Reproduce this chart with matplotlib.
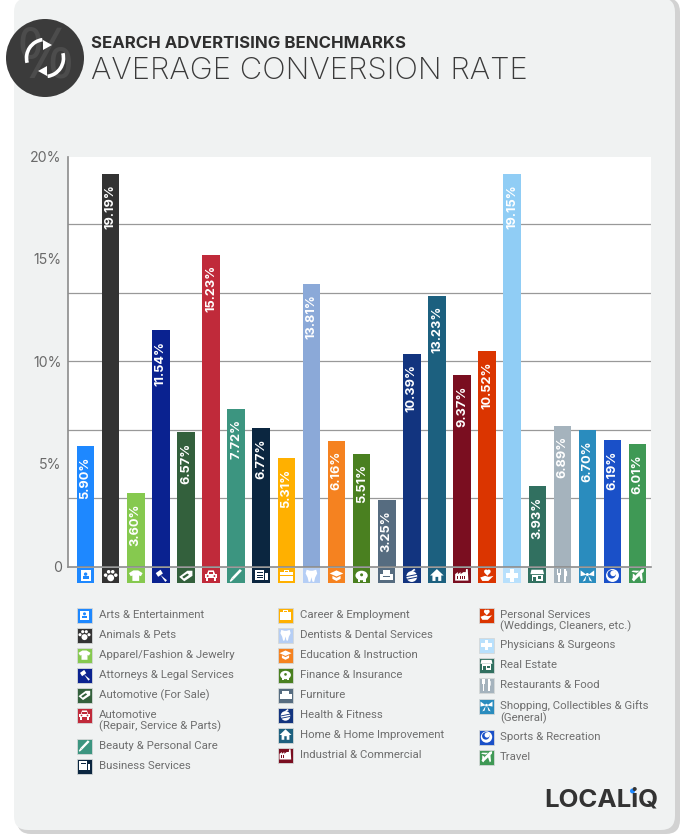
import matplotlib
matplotlib.use("Agg")
import matplotlib.pyplot as plt
from matplotlib.patches import Arc, Circle, Ellipse, FancyBboxPatch, Polygon, Rectangle
from matplotlib.ticker import FixedLocator
from matplotlib.transforms import ScaledTranslation

W, H = 689, 838

categories = [
    "Arts & Entertainment", "Animals & Pets", "Apparel/Fashion & Jewelry",
    "Attorneys & Legal Services", "Automotive (For Sale)",
    "Automotive\n(Repair, Service & Parts)", "Beauty & Personal Care",
    "Business Services", "Career & Employment", "Dentists & Dental Services",
    "Education & Instruction", "Finance & Insurance", "Furniture",
    "Health & Fitness", "Home & Home Improvement", "Industrial & Commercial",
    "Personal Services\n(Weddings, Cleaners, etc.)", "Physicians & Surgeons",
    "Real Estate", "Restaurants & Food",
    "Shopping, Collectibles & Gifts\n(General)", "Sports & Recreation", "Travel",
]
values = [5.90, 19.19, 3.60, 11.54, 6.57, 15.23, 7.72, 6.77, 5.31, 13.81, 6.16, 5.51,
          3.25, 10.39, 13.23, 9.37, 10.52, 19.15, 3.93, 6.89, 6.70, 6.19, 6.01]
colors = ["#1E88FF", "#333333", "#86C94F", "#0A2290", "#33603C", "#C02A3A", "#3C9580",
          "#0B2640", "#FFB000", "#8BA9D8", "#F58220", "#4A8020", "#566C80", "#12347F",
          "#1C607F", "#7A0E20", "#DB3500", "#90CDF5", "#317060", "#A5B3BD", "#2A8CBE",
          "#1A50C8", "#3F9955"]
strip_colors = list(colors)
strip_colors[9] = "#B5CEF5"
strip_colors[17] = "#B8E0FC"
icon_names = ["art", "paw", "shirt", "gavel", "tag", "car", "brush", "news", "case",
              "tooth", "cap", "pig", "sofa", "apple", "house", "factory", "hand", "plus",
              "store", "fork", "bow", "ball", "plane"]
tick_values = [0, 5, 10, 15, 20]
tick_labels = ["0", "5%", "10%", "15%", "20%"]
grid_values = [3.37, 6.68, 10.03, 13.37, 16.72]

# legend rows: text top line y in px for each column
legend_cols = [
    (77, 99, range(0, 8), [615, 635, 655, 675, 695, 715, 746, 766]),
    (278, 300, range(8, 16), [615, 635, 655, 675, 695, 715, 735, 755]),
    (479, 500, range(16, 23), [615, 645, 665, 685, 706, 737, 757]),
]


def fx(px):
    return px / W


def fy(py):
    return 1 - py / H


def draw_icon(ax, name, cx, cy, bg, s=6.0):
    def P(pts, c="white"):
        ax.add_patch(Polygon([(cx + s * x, cy - s * y) for x, y in pts], fc=c, ec="none", zorder=6))

    def C(x, y, r, c="white"):
        ax.add_patch(Circle((cx + s * x, cy - s * y), r * s, fc=c, ec="none", zorder=6))

    def R(x0, y0, x1, y1, c="white"):
        P([(x0, y0), (x1, y0), (x1, y1), (x0, y1)], c)

    if name == "art":
        R(-.75, -.75, .75, .75)
        C(0, .2, .25, bg)
        R(-.45, -.45, .45, -.1, bg)
    elif name == "paw":
        C(0, -.35, .5)
        for x, y in [(-.75, .05), (-.3, .55), (.3, .55), (.75, .05)]:
            C(x, y, .26)
    elif name == "shirt":
        P([(-.35, .75), (.35, .75), (1, .35), (.75, -.1), (.5, 0), (.5, -.8), (-.5, -.8), (-.5, 0), (-.75, -.1), (-1, .35)])
    elif name == "gavel":
        P([(-.75, .35), (-.05, .85), (.3, .3), (-.4, -.2)])
        P([(-.1, .15), (.1, -.05), (.9, -.7), (.65, -.95)])
    elif name == "tag":
        P([(-1, -.2), (.2, .7), (.95, .7), (.95, -.05), (-.25, -.85)])
        P([(-.55, -.2), (.2, .3), (.45, .1), (-.3, -.45)], bg)
    elif name == "car":
        R(-.85, -.4, .85, .25)
        P([(-.6, .2), (-.4, .75), (.4, .75), (.6, .2)])
        R(-.35, .25, .35, .55, bg)
        R(-.8, -.75, -.45, -.35)
        R(.45, -.75, .8, -.35)
        C(-.5, -.08, .14, bg)
        C(.5, -.08, .14, bg)
    elif name == "brush":
        P([(.55, .95), (.85, .7), (-.35, -.55), (-.65, -.3)])
        P([(-.65, -.3), (-.35, -.55), (-.8, -.95), (-.95, -.8)])
    elif name == "news":
        R(-.9, -.7, .45, .8)
        R(.5, -.7, .95, .3)
        R(-.65, .3, .2, .45, bg)
        R(-.65, -.05, .2, .08, bg)
        R(-.65, -.4, .2, -.27, bg)
    elif name == "case":
        R(-.95, -.75, .95, .5)
        R(-.35, .5, .35, .8)
        R(-.2, .5, .2, .65, bg)
        R(-.95, -.08, .95, .02, bg)
    elif name == "tooth":
        P([(-.7, .85), (-.2, .7), (.2, .7), (.7, .85), (.85, .3), (.55, -.3), (.4, -.95), (.15, -.9), (0, -.25),
           (-.15, -.9), (-.4, -.95), (-.55, -.3), (-.85, .3)])
    elif name == "cap":
        P([(-1, .3), (0, .75), (1, .3), (0, -.15)])
        P([(-.6, -.05), (0, -.35), (.6, -.05), (.6, -.5), (0, -.8), (-.6, -.5)])
    elif name == "pig":
        ax.add_patch(Ellipse((cx, cy), 1.8 * s, 1.4 * s, fc="white", ec="none", zorder=6))
        R(-.6, -.9, -.25, -.4)
        R(.25, -.9, .6, -.4)
        C(0, .1, .22, bg)
    elif name == "sofa":
        R(-.55, -.1, .55, .75)
        R(-1, -.7, -.5, .2)
        R(.5, -.7, 1, .2)
        R(-.6, -.7, .6, -.2)
    elif name == "apple":
        C(0, -.15, .8)
        P([(-.1, .65), (.35, 1), (.55, .8), (.1, .55)])
        P([(-.85, -.1), (.85, .25), (.85, .1), (-.85, -.25)], bg)
        P([(-.85, -.5), (.85, -.15), (.85, -.3), (-.85, -.65)], bg)
    elif name == "house":
        P([(0, .95), (1, 0), (.65, 0), (.65, -.8), (.2, -.8), (.2, -.2), (-.2, -.2), (-.2, -.8), (-.65, -.8), (-.65, 0), (-1, 0)])
    elif name == "factory":
        P([(-1, -.75), (-1, .2), (-.6, .5), (-.6, .2), (-.2, .5), (-.2, .2), (.2, .5), (.55, .5), (.6, .95), (.85, .95), (.95, -.75)])
        for x in [-.7, -.35, 0, .35]:
            R(x, -.5, x + .14, 0, bg)
    elif name == "hand":
        C(-.15, .6, .28)
        C(.25, .6, .28)
        P([(-.4, .45), (.5, .45), (.05, -.05)])
        P([(-1, -.3), (-.3, -.05), (.25, -.2), (.95, -.05), (.2, -.8), (-.7, -.8)])
    elif name == "plus":
        R(-.3, -.9, .3, .9)
        R(-.9, -.3, .9, .3)
    elif name == "store":
        P([(-.85, .85), (.85, .85), (1, .2), (-1, .2)])
        R(-.8, -.85, .8, .1)
        R(-.55, -.85, -.15, -.15, bg)
        R(.1, -.5, .6, -.1, bg)
    elif name == "fork":
        R(-.6, -.95, -.35, .1)
        R(-.75, .1, -.2, .3)
        for x in [-.75, -.55, -.35]:
            R(x, .2, x + .13, .95)
        R(.3, -.95, .55, .95)
        P([(.3, .95), (.7, .6), (.7, -.1), (.3, -.1)])
    elif name == "bow":
        P([(-.12, .1), (-1, .75), (-1, -.1)])
        P([(.12, .1), (1, .75), (1, -.1)])
        P([(-.15, 0), (-.7, -.9), (-.3, -.75)])
        P([(.15, 0), (.7, -.9), (.3, -.75)])
        C(0, .15, .22)
    elif name == "ball":
        C(0, 0, .95)
        C(-.12, .18, .62, bg)
        C(.1, .32, .42)
    elif name == "plane":
        P([(.95, .95), (.55, .9), (-.85, -.55), (-.55, -.85), (.9, .55)])
        P([(-.1, .4), (-.9, .55), (-.7, .72), (.3, .7)])
        P([(-.35, .05), (-.5, -.9), (-.72, -.7), (-.7, .3)])
        P([(.2, .1), (.55, -.9), (.75, -.7), (.65, .35)])


fig = plt.figure(figsize=(W / 100, H / 100), dpi=100, facecolor="white")

# page layer in pixel coordinates
bg = fig.add_axes([0, 0, 1, 1], zorder=0)
bg.set_xlim(0, W)
bg.set_ylim(H, 0)
bg.axis("off")
bg.add_patch(FancyBboxPatch((17, -2), 663, 836, boxstyle="round,pad=0,rounding_size=14", fc="#D2D2D2", ec="none"))
bg.add_patch(FancyBboxPatch((14, -2), 661, 832, boxstyle="round,pad=0,rounding_size=14", fc="#F0F2F2", ec="none"))

# header badge
bg.add_patch(Circle((45, 58), 39, fc="#3B3B3B", ec="none", zorder=2))
bg.text(45, 60, "%", fontsize=50, color="#4C4C4C", ha="center", va="center", family="Open Sans", zorder=3)
bg.add_patch(Arc((45, 58), 37, 37, theta1=165, theta2=262, ec="white", lw=2.6, zorder=4))
bg.add_patch(Arc((45, 58), 37, 37, theta1=-15, theta2=82, ec="white", lw=2.6, zorder=4))
bg.add_patch(Polygon([(43, 40), (52, 45), (43, 50)], fc="white", ec="none", zorder=4))
bg.add_patch(Polygon([(47, 66), (38, 71), (47, 76)], fc="white", ec="none", zorder=4))

bg.text(91, 44, "SEARCH ADVERTISING BENCHMARKS", fontsize=12.1, fontweight="bold", color="#2E2E2E",
        ha="left", va="center", family="Inter")
bg.text(91, 71, "AVERAGE CONVERSION RATE", fontsize=22.3, fontweight="light", color="#3A3A3A",
        ha="left", va="center", family="Inter")

# chart
ax = fig.add_axes([fx(68), fy(567), (651 - 68) / W, 410 / H], zorder=1)
ax.set_facecolor("white")
xs = list(range(len(values)))
ax.bar(xs, values, width=0.7, color=colors, zorder=3)
ax.set_xlim(-0.70, 22.53)
ax.set_ylim(0, 20)
ax.set_xticks([])
ax.yaxis.set_major_locator(FixedLocator(tick_values))
ax.yaxis.set_minor_locator(FixedLocator(grid_values))
ax.set_yticklabels(tick_labels, fontsize=10.2, color="#6A6A6A", family="Inter")
ax.tick_params(axis="y", which="both", length=0, pad=4.5)
nudge = ScaledTranslation(0, 0.5 / 72, fig.dpi_scale_trans)
for lab in ax.get_yticklabels():
    lab.set_transform(lab.get_transform() + nudge)
ax.grid(axis="y", which="minor", color="#999999", lw=0.9, zorder=1)
ax.grid(axis="y", which="major", visible=False)
for side in ["top", "right"]:
    ax.spines[side].set_visible(False)
for side in ["left", "bottom"]:
    ax.spines[side].set_color("#8C8C8C")
    ax.spines[side].set_linewidth(1.2)
    ax.spines[side].set_zorder(5)

for x, v in zip(xs, values):
    ax.annotate(f"{v:.2f}%", (x, v), xytext=(0, -7.5), textcoords="offset points", rotation=90,
                ha="center", va="top", color="white", fontsize=9.2, fontweight="bold",
                family="Inter", zorder=4)

# icons strip + legend go on a layer above the chart
top_layer = fig.add_axes([0, 0, 1, 1], zorder=2)
top_layer.set_xlim(0, W)
top_layer.set_ylim(H, 0)
top_layer.axis("off")
for i, name in enumerate(icon_names):
    cx = 85.6 + 25.09 * i
    top_layer.add_patch(Rectangle((cx - 8.75, 567.6), 17.5, 15.8, fc=strip_colors[i], ec="none"))
    draw_icon(top_layer, name, cx, 575.5, strip_colors[i], s=6.8)

for sw_x, txt_x, idx, ys in legend_cols:
    for i, y in zip(idx, ys):
        top_layer.add_patch(Rectangle((sw_x, y - 7.5), 15, 15, fc=strip_colors[i], ec="#D5D8D8", lw=0.6))
        draw_icon(top_layer, icon_names[i], sw_x + 7.5, y, strip_colors[i], s=6)
        top_layer.text(txt_x, y - 5.5, categories[i], fontsize=8.2, color="#6E6E6E", ha="left", va="top",
                       family="Roboto", linespacing=1.1)

# logo
top_layer.text(544, 800, "LOCALiQ", fontsize=18.6, fontweight="bold", color="#333333", ha="left",
               va="center", family="Inter")
top_layer.add_patch(Circle((632.5, 791), 2.5, fc="#1E88FF", ec="none"))

fig.savefig("out.png", dpi=100)
